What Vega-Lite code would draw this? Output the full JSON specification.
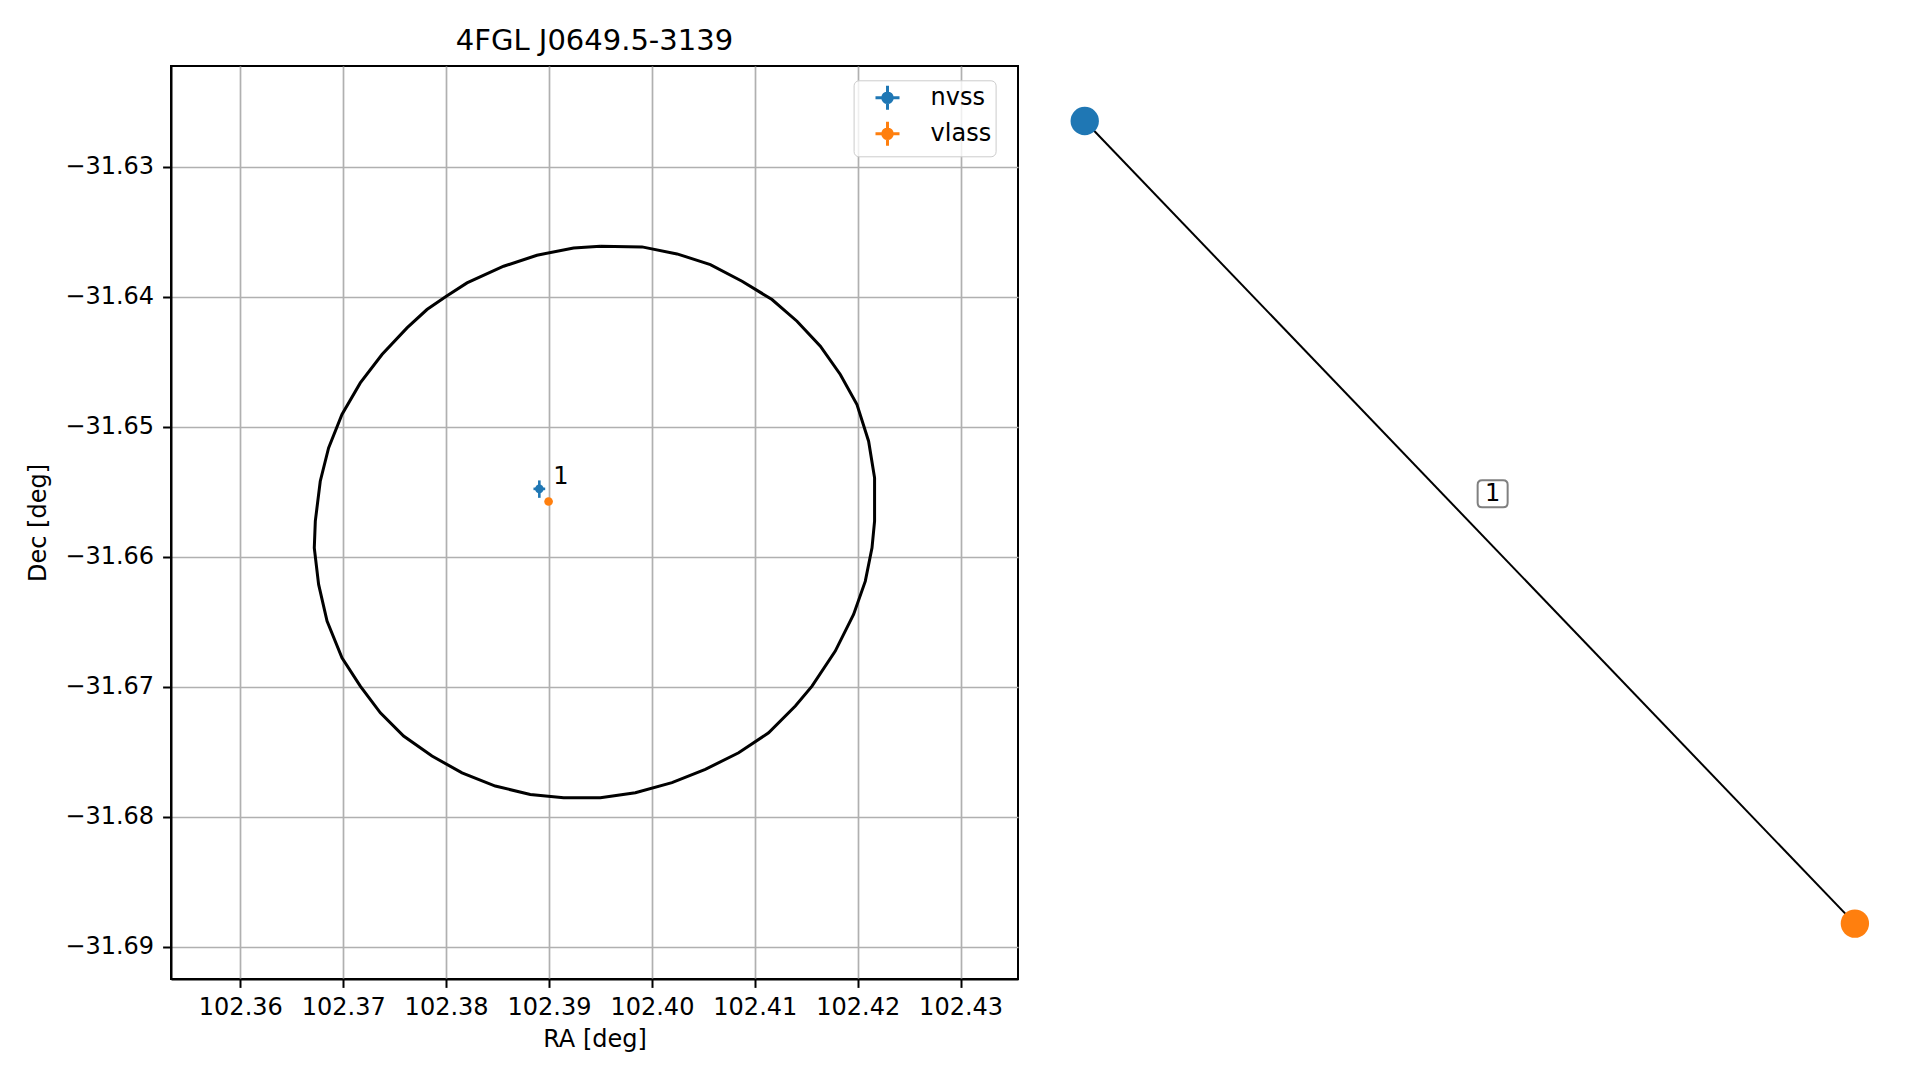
{
  "$schema": "https://vega.github.io/schema/vega-lite/v6.json",
  "background": "white",
  "padding": {"left": 25, "top": 26, "right": 0, "bottom": 0},
  "spacing": 33,
  "datasets": {
    "circle": [
      {"i": 0, "ra": 102.39499, "dec": -31.63610},
      {"i": 1, "ra": 102.39904, "dec": -31.63615},
      {"i": 2, "ra": 102.40244, "dec": -31.63669},
      {"i": 3, "ra": 102.40568, "dec": -31.63751},
      {"i": 4, "ra": 102.40876, "dec": -31.63879},
      {"i": 5, "ra": 102.41167, "dec": -31.64020},
      {"i": 6, "ra": 102.41410, "dec": -31.64187},
      {"i": 7, "ra": 102.41637, "dec": -31.64379},
      {"i": 8, "ra": 102.41831, "dec": -31.64597},
      {"i": 9, "ra": 102.41993, "dec": -31.64828},
      {"i": 10, "ra": 102.42106, "dec": -31.65110},
      {"i": 11, "ra": 102.42164, "dec": -31.65392},
      {"i": 12, "ra": 102.42164, "dec": -31.65725},
      {"i": 13, "ra": 102.42139, "dec": -31.65931},
      {"i": 14, "ra": 102.42074, "dec": -31.66187},
      {"i": 15, "ra": 102.41960, "dec": -31.66443},
      {"i": 16, "ra": 102.41782, "dec": -31.66725},
      {"i": 17, "ra": 102.41556, "dec": -31.66995},
      {"i": 18, "ra": 102.41394, "dec": -31.67148},
      {"i": 19, "ra": 102.41134, "dec": -31.67354},
      {"i": 20, "ra": 102.40843, "dec": -31.67508},
      {"i": 21, "ra": 102.40519, "dec": -31.67635},
      {"i": 22, "ra": 102.40195, "dec": -31.67738},
      {"i": 23, "ra": 102.39839, "dec": -31.67815},
      {"i": 24, "ra": 102.39499, "dec": -31.67854},
      {"i": 25, "ra": 102.39142, "dec": -31.67854},
      {"i": 26, "ra": 102.38818, "dec": -31.67828},
      {"i": 27, "ra": 102.38478, "dec": -31.67764},
      {"i": 28, "ra": 102.38155, "dec": -31.67662},
      {"i": 29, "ra": 102.37863, "dec": -31.67533},
      {"i": 30, "ra": 102.37587, "dec": -31.67379},
      {"i": 31, "ra": 102.37361, "dec": -31.67200},
      {"i": 32, "ra": 102.37166, "dec": -31.66995},
      {"i": 33, "ra": 102.36988, "dec": -31.66777},
      {"i": 34, "ra": 102.36843, "dec": -31.66495},
      {"i": 35, "ra": 102.36761, "dec": -31.66212},
      {"i": 36, "ra": 102.36719, "dec": -31.65931},
      {"i": 37, "ra": 102.36729, "dec": -31.65725},
      {"i": 38, "ra": 102.36777, "dec": -31.65418},
      {"i": 39, "ra": 102.36858, "dec": -31.65162},
      {"i": 40, "ra": 102.36988, "dec": -31.64905},
      {"i": 41, "ra": 102.37166, "dec": -31.64662},
      {"i": 42, "ra": 102.37377, "dec": -31.64443},
      {"i": 43, "ra": 102.37620, "dec": -31.64238},
      {"i": 44, "ra": 102.37814, "dec": -31.64097},
      {"i": 45, "ra": 102.38002, "dec": -31.63995},
      {"i": 46, "ra": 102.38203, "dec": -31.63892},
      {"i": 47, "ra": 102.38559, "dec": -31.63764},
      {"i": 48, "ra": 102.38883, "dec": -31.63679},
      {"i": 49, "ra": 102.39239, "dec": -31.63623},
      {"i": 50, "ra": 102.39499, "dec": -31.63610}
    ],
    "sources": [
      {"cat": "nvss", "ra": 102.38906, "dec": -31.65477, "raLo": 102.38849, "raHi": 102.38963, "decLo": -31.65546, "decHi": -31.65412},
      {"cat": "vlass", "ra": 102.38996, "dec": -31.65574, "raLo": 102.38993, "raHi": 102.38999, "decLo": -31.65577, "decHi": -31.65571}
    ],
    "labels": [
      {"label": "1", "ra": 102.38906, "dec": -31.65477}
    ],
    "nodes": [
      {"k": 0, "node": "nvss", "gx": -1.0, "gy": 1.0},
      {"k": 1, "node": "vlass", "gx": 1.0, "gy": -1.0}
    ],
    "edgeLabels": [
      {"label": "1", "lx": 0.0593, "ly": 0.0712}
    ]
  },
  "config": {
    "view": {"stroke": "black", "strokeWidth": 2},
    "font": "DejaVu Sans",
    "axis": {
      "domainColor": "black", "domainWidth": 2,
      "tickColor": "black", "tickWidth": 2, "tickSize": 8.4,
      "labelFont": "DejaVu Sans", "labelFontSize": 24, "labelColor": "black",
      "titleFont": "DejaVu Sans", "titleFontSize": 24, "titleFontWeight": "normal", "titleColor": "black",
      "gridColor": "#b0b0b0", "gridWidth": 1.7, "gridOpacity": 1,
      "labelFlush": false, "labelOverlap": false
    }
  },
  "hconcat": [
    {
      "width": 847,
      "height": 913,
      "title": {"text": "4FGL J0649.5-3139", "fontSize": 29, "font": "DejaVu Sans", "fontWeight": "normal", "color": "black", "offset": 10},
      "layer": [
        {
          "data": {"name": "circle"},
          "mark": {"type": "line", "color": "black", "strokeWidth": 3},
          "encoding": {
            "x": {"field": "ra", "type": "quantitative", "title": "RA [deg]",
              "scale": {"domain": [102.353265, 102.435578], "nice": false, "zero": false},
              "axis": {"values": [102.36, 102.37, 102.38, 102.39, 102.40, 102.41, 102.42, 102.43], "format": ".2f", "labelPadding": 8, "titlePadding": 8}},
            "y": {"field": "dec", "type": "quantitative", "title": "Dec [deg]",
              "scale": {"domain": [-31.692485, -31.622231], "nice": false, "zero": false},
              "axis": {"values": [-31.63, -31.64, -31.65, -31.66, -31.67, -31.68, -31.69], "format": ".2f", "labelPadding": 9, "titlePadding": 14}},
            "order": {"field": "i", "type": "quantitative"}
          }
        },
        {
          "data": {"name": "sources"},
          "mark": {"type": "rule", "strokeWidth": 2.6},
          "encoding": {
            "x": {"field": "raLo", "type": "quantitative", "title": "RA [deg]"},
            "x2": {"field": "raHi"},
            "y": {"field": "dec", "type": "quantitative", "title": "Dec [deg]"},
            "color": {"field": "cat", "type": "nominal"}
          }
        },
        {
          "data": {"name": "sources"},
          "mark": {"type": "rule", "strokeWidth": 2.6},
          "encoding": {
            "x": {"field": "ra", "type": "quantitative", "title": "RA [deg]"},
            "y": {"field": "decLo", "type": "quantitative", "title": "Dec [deg]"},
            "y2": {"field": "decHi"},
            "color": {"field": "cat", "type": "nominal"}
          }
        },
        {
          "data": {"name": "sources"},
          "mark": {"type": "point", "filled": true, "size": 75, "opacity": 1},
          "encoding": {
            "x": {"field": "ra", "type": "quantitative", "title": "RA [deg]"},
            "y": {"field": "dec", "type": "quantitative", "title": "Dec [deg]"},
            "color": {"field": "cat", "type": "nominal",
              "scale": {"domain": ["nvss", "vlass"], "range": ["#1f77b4", "#ff7f0e"]},
              "legend": {
                "title": null, "orient": "none", "legendX": 682.6, "legendY": 14.3,
                "symbolType": "M-1,0H1M0,-1V1M0.4,0A0.4,0.4,0,1,1,-0.4,0A0.4,0.4,0,1,1,0.4,0Z",
                "symbolSize": 576, "symbolStrokeWidth": 3, "symbolOffset": 16.4,
                "labelFont": "DejaVu Sans", "labelFontSize": 24, "labelColor": "black", "labelOffset": 29.6,
                "labelExpr": "datum.label + '\u2002'",
                "rowPadding": -1, "padding": 4,
                "strokeColor": "#cccccc", "fillColor": "rgba(255,255,255,0.8)", "cornerRadius": 5,
                "encode": {
                  "legend": {"update": {"strokeWidth": {"value": 2}}},
                  "symbols": {"update": {"stroke": {"scale": "color", "field": "value"}, "fill": {"scale": "color", "field": "value"}, "opacity": {"value": 1}, "strokeWidth": {"value": 3}}}
                }
              }
            }
          }
        },
        {
          "data": {"name": "labels"},
          "mark": {"type": "text", "font": "DejaVu Sans", "fontSize": 24, "color": "black", "align": "left", "baseline": "middle", "dx": 14, "dy": -12},
          "encoding": {
            "x": {"field": "ra", "type": "quantitative", "title": "RA [deg]"},
            "y": {"field": "dec", "type": "quantitative", "title": "Dec [deg]"},
            "text": {"field": "label"}
          }
        }
      ]
    },
    {
      "width": 836,
      "height": 913,
      "view": {"stroke": null},
      "layer": [
        {
          "data": {"name": "nodes"},
          "mark": {"type": "line", "color": "black", "strokeWidth": 2},
          "encoding": {
            "x": {"field": "gx", "type": "quantitative", "scale": {"domain": [-1.085, 1.086], "nice": false, "zero": false}, "axis": null},
            "y": {"field": "gy", "type": "quantitative", "scale": {"domain": [-1.138, 1.137], "nice": false, "zero": false}, "axis": null},
            "order": {"field": "k", "type": "quantitative"}
          }
        },
        {
          "data": {"name": "nodes"},
          "mark": {"type": "point", "filled": true, "size": 804, "opacity": 1},
          "encoding": {
            "x": {"field": "gx", "type": "quantitative"},
            "y": {"field": "gy", "type": "quantitative"},
            "fill": {"field": "node", "type": "nominal", "scale": {"domain": ["nvss", "vlass"], "range": ["#1f77b4", "#ff7f0e"]}, "legend": null}
          }
        },
        {
          "data": {"name": "edgeLabels"},
          "mark": {"type": "point", "shape": "M-0.7,-0.9H0.7Q1,-0.9,1,-0.6V0.6Q1,0.9,0.7,0.9H-0.7Q-1,0.9,-1,0.6V-0.6Q-1,-0.9,-0.7,-0.9Z", "size": 900, "filled": true, "fill": "white", "stroke": "#808080", "strokeWidth": 2, "opacity": 1},
          "encoding": {
            "x": {"field": "lx", "type": "quantitative"},
            "y": {"field": "ly", "type": "quantitative"}
          }
        },
        {
          "data": {"name": "edgeLabels"},
          "mark": {"type": "text", "font": "DejaVu Sans", "fontSize": 24, "color": "black", "align": "center", "baseline": "middle"},
          "encoding": {
            "x": {"field": "lx", "type": "quantitative"},
            "y": {"field": "ly", "type": "quantitative"},
            "text": {"field": "label"}
          }
        }
      ]
    }
  ]
}
